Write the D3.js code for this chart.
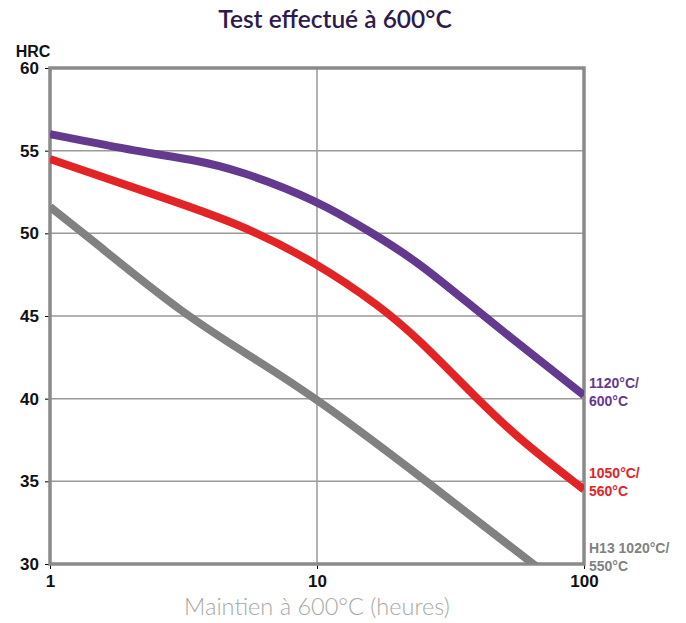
<!DOCTYPE html>
<html>
<head>
<meta charset="utf-8">
<script src="https://cdn.jsdelivr.net/npm/d3@7"></script>
<style>
  body { margin: 0; background: #fff; }
  svg { display: block; }
</style>
</head>
<body>
<div id="chart"></div>
<script>
// data (hours, HRC)
var hours1120 = [1, 2.2, 3.35, 5.15, 10, 16.2, 24.3, 42, 100];
var hrc1120   = [56.0, 54.9, 54.5, 53.8, 52.0, 50.0, 48.2, 45.0, 40.2];
var hours1050 = [1, 2.2, 5.15, 10, 17.2, 23.7, 39.7, 57.6, 100];
var hrc1050   = [54.5, 52.6, 50.6, 48.2, 45.6, 43.7, 40.0, 37.5, 34.5];
var hoursH13  = [1, 1.41, 3.15, 6, 10, 25.3, 64.4, 75];
var hrcH13    = [51.6, 49.7, 45.1, 42.3, 40.0, 35.1, 30.0, 29.2];

var xTicks = [1, 10, 100];
var yTicks = [30, 35, 40, 45, 50, 55, 60];

var series = [
  { name: ["1120°C/", "600°C"], color: "#643a8f", x: hours1120, y: hrc1120 },
  { name: ["1050°C/", "560°C"], color: "#e32426", x: hours1050, y: hrc1050 },
  { name: ["H13 1020°C/", "550°C"], color: "#818181", x: hoursH13, y: hrcH13 }
];

var width = 686, height = 623;
var margin = { top: 68, left: 50, right: 102, bottom: 59 };
var plotW = width - margin.left - margin.right;
var plotH = height - margin.top - margin.bottom;

var svg = d3.select("#chart").append("svg")
  .attr("width", width)
  .attr("height", height);

var x = d3.scaleLog().domain([1, 100]).range([0, plotW]);
var y = d3.scaleLinear().domain([30, 60]).range([plotH, 0]);

// title
svg.append("text")
  .attr("x", 335).attr("y", 28)
  .attr("text-anchor", "middle")
  .style("font-family", "Lato, 'Open Sans', sans-serif")
  .style("font-size", "24.5px")
  .style("font-weight", "600")
  .attr("fill", "#2e1a4d")
  .text("Test effectué à 600°C");

var g = svg.append("g").attr("transform", "translate(" + margin.left + "," + margin.top + ")");

// grid
g.selectAll(".hgrid").data(yTicks.slice(1, -1)).enter().append("line")
  .attr("x1", 0).attr("x2", plotW)
  .attr("y1", function(d) { return y(d); }).attr("y2", function(d) { return y(d); })
  .attr("stroke", "#9a9a9a").attr("stroke-width", 1.5);
g.append("line")
  .attr("x1", x(10)).attr("x2", x(10)).attr("y1", 0).attr("y2", plotH)
  .attr("stroke", "#9a9a9a").attr("stroke-width", 1.5);

// axes (ticks + labels)
var yAxis = d3.axisLeft(y).tickValues(yTicks).tickSize(5).tickPadding(6);
var yg = g.append("g").call(yAxis);
yg.select(".domain").remove();
yg.selectAll("text")
  .style("font-family", "'Liberation Sans Narrow', 'Liberation Sans', Arial, sans-serif")
  .style("font-size", "17px").style("font-weight", "bold").attr("fill", "#111");

var xAxis = d3.axisBottom(x).tickValues(xTicks).tickFormat(d3.format("d")).tickSize(5).tickPadding(6);
var xg = g.append("g").attr("transform", "translate(0," + plotH + ")").call(xAxis);
xg.select(".domain").remove();
xg.selectAll("text")
  .style("font-family", "'Liberation Sans Narrow', 'Liberation Sans', Arial, sans-serif")
  .style("font-size", "17px").style("font-weight", "bold").attr("fill", "#111");

// frame
g.append("rect")
  .attr("x", 0).attr("y", 0).attr("width", plotW).attr("height", plotH)
  .attr("fill", "none").attr("stroke", "#8a8a8a").attr("stroke-width", 3.5);

svg.append("text")
  .attr("x", 33).attr("y", 57)
  .attr("text-anchor", "middle")
  .style("font-family", "'Liberation Sans Narrow', 'Liberation Sans', Arial, sans-serif")
  .style("font-size", "16px").style("font-weight", "bold").attr("fill", "#111")
  .text("HRC");

// curves - basis smooths the reading noise
var line = d3.line()
  .x(function(d) { return x(d[0]); })
  .y(function(d) { return y(d[1]); })
  .curve(d3.curveBasis);

svg.append("clipPath").attr("id", "plotclip")
  .append("rect").attr("x", 0).attr("y", 0).attr("width", plotW).attr("height", plotH);

g.append("g").attr("clip-path", "url(#plotclip)")
  .selectAll("path").data(series.slice().reverse()).enter().append("path")
  .attr("d", function(s) { return line(d3.zip(s.x, s.y)); })
  .attr("fill", "none")
  .attr("stroke", function(s) { return s.color; })
  .attr("stroke-width", 8);

// end labels
var labelY = [388, 478, 553];
series.forEach(function(s, i) {
  var t = svg.append("text")
    .attr("x", 589).attr("y", labelY[i])
    .style("font-family", "'Liberation Sans Narrow', 'Liberation Sans', Arial, sans-serif")
    .style("font-size", "14px").style("font-weight", "bold")
    .attr("fill", s.color);
  t.append("tspan").attr("x", 589).attr("dy", 0).text(s.name[0]);
  t.append("tspan").attr("x", 589).attr("dy", 18).text(s.name[1]);
});

// x label
svg.append("text")
  .attr("x", 317).attr("y", 615)
  .attr("text-anchor", "middle")
  .style("font-family", "Lato, 'Open Sans', sans-serif")
  .style("font-size", "23.5px").style("font-weight", "300")
  .attr("fill", "#a8a8a8")
  .text("Maintien à 600°C (heures)");
</script>
</body>
</html>
